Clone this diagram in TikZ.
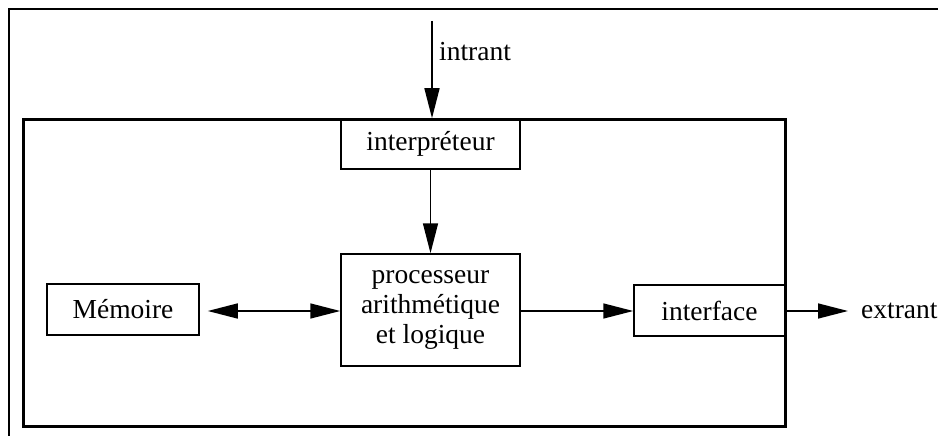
\documentclass[tikz,border=0pt]{standalone}
\usepackage{fontspec}
\setmainfont{Liberation Serif}
\usetikzlibrary{arrows.meta}
\begin{document}
\begin{tikzpicture}[x=1pt,y=-1pt,
  font=\fontsize{27.5}{30}\selectfont,
  blk/.style={draw, line width=1.5pt, rectangle, inner sep=0pt, align=center},
  flow/.style={line width=1.5pt, -{Triangle[length=30pt,width=15pt]}},
  flow2/.style={line width=1.5pt, {Triangle[length=30pt,width=15pt]}-{Triangle[length=30pt,width=15pt]}},
  lbl/.style={inner sep=0pt, anchor=west}]
  \useasboundingbox (0,0) rectangle (938,436);
  % outer frame (top and left edges visible)
  \draw[line width=2pt] (9,436) -- (9,9) -- (940,9);
  % system boundary
  \draw[line width=3pt] (23.5,119.5) rectangle (785,426);
  % blocks
  \node[blk, minimum width=179pt, minimum height=50pt] (interp) at (430.5,144) {interpréteur};
  \node[blk, minimum width=179pt, minimum height=112pt] (proc) at (430.5,310) {processeur\\arithmétique\\et logique};
  \node[blk, minimum width=152pt, minimum height=51pt] (mem) at (123,309.5) {Mémoire};
  \node[blk, minimum width=151pt, minimum height=51pt] (iface) at (709.5,310.5) {interface};
  % external labels
  \coordinate (in) at (432,21);
  \node[lbl] (intrant) at (439,52) {intrant};
  \node[lbl] (extrant) at (861,310.5) {extrant};
  % connectors
  \draw[flow] (in) -- (in |- interp.north);
  \draw[flow] (interp.south) -- (proc.north);
  \draw[flow2, shorten <=8pt] (mem.east |- 0,311) -- (proc.west |- 0,311);
  \draw[flow] (proc.east |- 0,311) -- (iface.west |- 0,311);
  \draw[flow, shorten >=13pt] (iface.east |- 0,311) -- (extrant.west |- 0,311);
\end{tikzpicture}
\end{document}
